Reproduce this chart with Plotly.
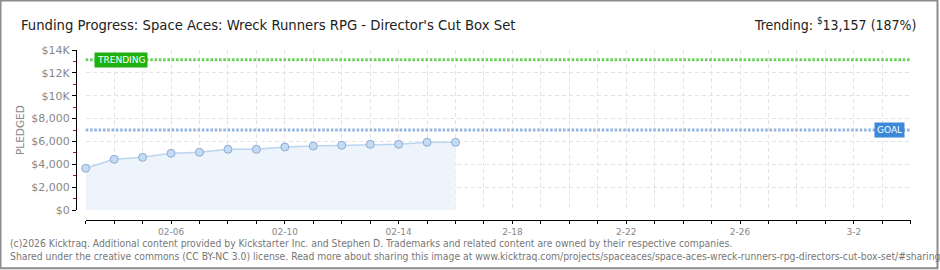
import plotly.graph_objects as go

# ---------------- data ----------------
dates = ["2026-02-03", "2026-02-04", "2026-02-05", "2026-02-06", "2026-02-07",
         "2026-02-08", "2026-02-09", "2026-02-10", "2026-02-11", "2026-02-12",
         "2026-02-13", "2026-02-14", "2026-02-15", "2026-02-16"]
pledged = [3650, 4435, 4610, 4960, 5050, 5310, 5310, 5510, 5600, 5660,
           5745, 5745, 5920, 5920]
goal = 7000
trending = 13157
trending_pct = 187

x_start, x_end = "2026-02-03", "2026-03-04"
day_ticks = ["2026-02-%02d" % d for d in range(3, 29)] + ["2026-03-%02d" % d for d in range(1, 5)]
day_labels = {"2026-02-06": "02-06", "2026-02-10": "02-10", "2026-02-14": "02-14",
              "2026-02-18": "2-18", "2026-02-22": "2-22", "2026-02-26": "2-26",
              "2026-03-02": "3-2"}
day_text = [day_labels.get(d, " ") for d in day_ticks]

y_ticks = [0, 2000, 4000, 6000, 8000, 10000, 12000, 14000]
y_text = ["$0", "$2,000", "$4,000", "$6,000", "$8,000", "$10K", "$12K", "$14K"]
y_minor = [1000, 3000, 5000, 7000, 9000, 11000, 13000]

title = "Funding Progress: Space Aces: Wreck Runners RPG - Director's Cut Box Set"
footer1 = ("(c)2026 Kicktraq. Additional content provided by Kickstarter Inc. and Stephen D. "
           "Trademarks and related content are owned by their respective companies.")
footer2 = ("Shared under the creative commons (CC BY-NC 3.0) license. Read more about sharing this "
           "image at www.kicktraq.com/projects/spaceaces/space-aces-wreck-runners-rpg-directors-cut-box-set/#sharing")

# ---------------- layout helpers (pixel -> paper) ----------------
W, H = 940, 270
def px(x):
    return x / W
def py(y):
    return 1 - y / H

NARROW = "DejaVu Sans Condensed, Liberation Sans Narrow, sans-serif"
SANS = "DejaVu Sans, Verdana, sans-serif"

fig = go.Figure()

fig.add_trace(go.Scatter(
    x=dates, y=pledged, mode="lines+markers",
    line=dict(color="#BBD5F0", width=1.5),
    marker=dict(size=8, color="#C4DBF5", line=dict(color="#8FABCF", width=1)),
    fill="tozeroy", fillcolor="#EDF4FC",
    cliponaxis=False, hoverinfo="skip", showlegend=False,
))

shapes = [
    # trending line
    dict(type="line", xref="x domain", yref="y", x0=0, x1=1, y0=trending, y1=trending,
         line=dict(color="#6FD060", width=3, dash="2.6px,1.7px"), layer="above"),
    # goal line
    dict(type="line", xref="x domain", yref="y", x0=0, x1=1, y0=goal, y1=goal,
         line=dict(color="#93B5DF", width=3, dash="2.6px,1.7px"), layer="above"),
    # outer border
    dict(type="rect", xref="paper", yref="paper", x0=px(0.5), x1=px(937.5), y0=py(268.3), y1=py(0.5),
         line=dict(color="#8C8C8C", width=2), fillcolor="rgba(0,0,0,0)", layer="above"),
]

annotations = [
    dict(text=title, x=px(19), y=py(24), xref="paper", yref="paper", xanchor="left", yanchor="middle",
         showarrow=False, font=dict(family=NARROW, size=14.7, color="#222222")),
    dict(text="Trending: <sup>$</sup>13,157 (%d%%)" % trending_pct, x=px(918), y=py(24), xref="paper", yref="paper",
         xanchor="right", yanchor="middle", showarrow=False,
         font=dict(family=NARROW, size=14, color="#222222")),
    dict(text="PLEDGED", x=px(20), y=py(130), xref="paper", yref="paper", textangle=-90,
         xanchor="center", yanchor="middle", showarrow=False,
         font=dict(family=SANS, size=10.5, color="#888888")),
    dict(text="TRENDING", x=px(93.5), y=trending, xref="paper", yref="y", xanchor="left", yanchor="middle",
         showarrow=False, bgcolor="#1DB20E", borderpad=2,
         font=dict(family=SANS, size=9, color="#FFFFFF")),
    dict(text="GOAL", x=px(904.5), y=goal, xref="paper", yref="y", xanchor="right", yanchor="middle",
         showarrow=False, bgcolor="#3A88D7", borderpad=2,
         font=dict(family=SANS, size=9, color="#FFFFFF")),
    dict(text=footer1, x=px(8), y=py(243), xref="paper", yref="paper", xanchor="left", yanchor="middle",
         showarrow=False, font=dict(family=NARROW, size=10.3, color="#777777")),
    dict(text=footer2, x=px(8), y=py(255.5), xref="paper", yref="paper", xanchor="left", yanchor="middle",
         showarrow=False, font=dict(family=NARROW, size=10.3, color="#777777")),
]

fig.update_layout(
    width=W, height=H,
    margin=dict(l=0, r=0, t=0, b=0, autoexpand=False),
    paper_bgcolor="#FFFFFF", plot_bgcolor="#FFFFFF",
    showlegend=False,
    shapes=shapes, annotations=annotations,
    xaxis=dict(
        type="date", range=[x_start, x_end],
        domain=[px(85.7), px(910.7)],
        anchor="free", position=py(220),
        tickmode="array", tickvals=day_ticks, ticktext=day_text,
        ticks="outside", ticklen=3, tickwidth=1, tickcolor="#000000",
        showline=True, linecolor="#000000", linewidth=1.3,
        showgrid=True, gridcolor="#E3E3E3", griddash="4px,3px", gridwidth=1,
        zeroline=False,
        tickfont=dict(family=SANS, size=9, color="#888888"),
        fixedrange=True,
    ),
    yaxis=dict(
        range=[0, 14000],
        domain=[py(210), py(50)],
        anchor="free", position=px(76),
        tickmode="array", tickvals=y_ticks, ticktext=y_text,
        ticks="outside", ticklen=4, tickwidth=1, tickcolor="#000000",
        minor=dict(tickmode="array", tickvals=y_minor, ticks="outside", ticklen=3,
                   tickcolor="#E00000", tickwidth=1, showgrid=False),
        showline=True, linecolor="#000000", linewidth=1.3,
        showgrid=True, gridcolor="#E3E3E3", griddash="4px,3px", gridwidth=1,
        zeroline=False,
        tickfont=dict(family=SANS, size=11, color="#888888"),
        fixedrange=True,
    ),
)

fig.write_html("out.html")
